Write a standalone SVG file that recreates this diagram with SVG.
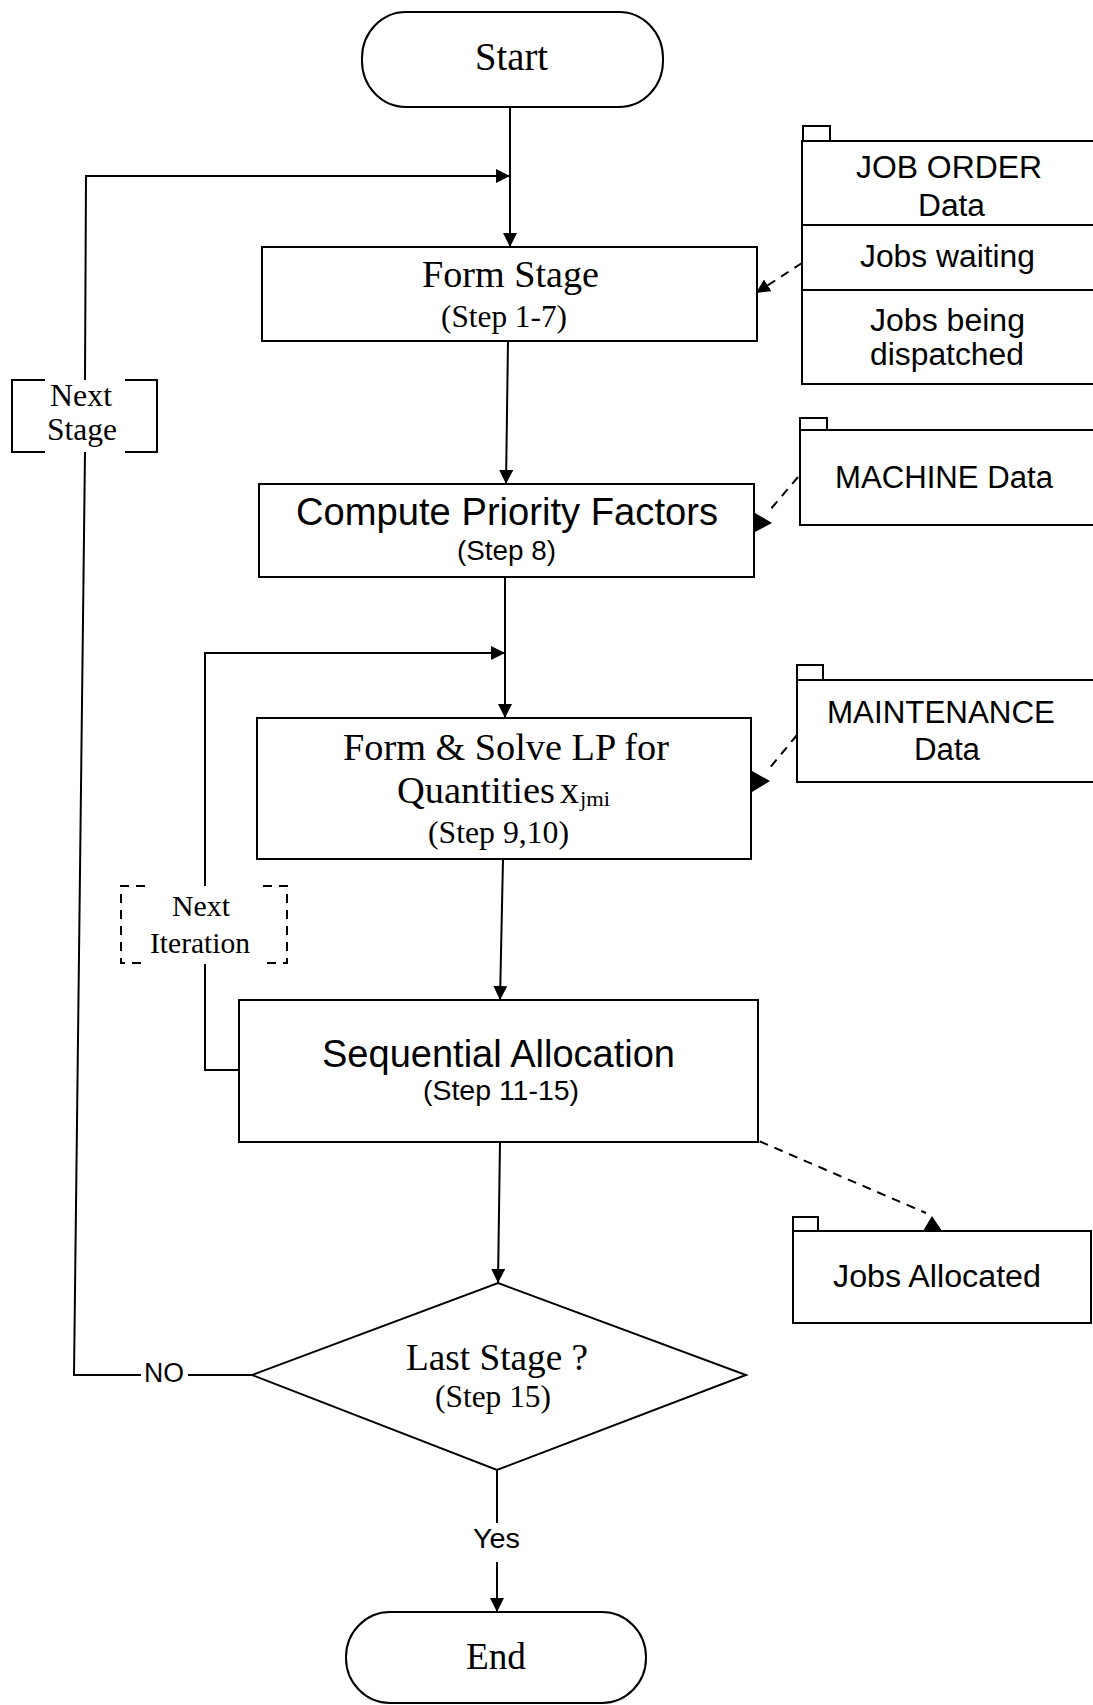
<svg xmlns="http://www.w3.org/2000/svg" width="1093" height="1705" viewBox="0 0 1093 1705">
  <defs>
    <style>
      .shape { fill: #ffffff; stroke: #000000; stroke-width: 2; }
      .edge { fill: none; stroke: #000000; stroke-width: 2; }
      .dash { stroke-dasharray: 9 7; }
      .head { fill: #000000; stroke: none; }
      .serif { font-family: "Liberation Serif", "Times New Roman", serif; fill: #000000; }
      .sans { font-family: "Liberation Sans", Arial, sans-serif; fill: #000000; }
    </style>
    <marker id="arrow" viewBox="0 0 14 14" refX="14" refY="7" markerWidth="14" markerHeight="14" markerUnits="userSpaceOnUse" orient="auto">
      <path d="M0,0 L14,7 L0,14 z" fill="#000000"/>
    </marker>
  </defs>

  <rect x="0" y="0" width="1093" height="1705" fill="#ffffff"/>

  <!-- connectors -->
  <g id="connectors">
    <!-- main flow -->
    <path class="edge" d="M510,107 L510,247" marker-end="url(#arrow)"/>
    <path class="edge" d="M508,341 L506,484" marker-end="url(#arrow)"/>
    <path class="edge" d="M505,577 L505,718" marker-end="url(#arrow)"/>
    <path class="edge" d="M503,859 L500,1000" marker-end="url(#arrow)"/>
    <path class="edge" d="M500,1142 L498,1283" marker-end="url(#arrow)"/>
    <path class="edge" d="M497,1470 L497,1523"/>
    <path class="edge" d="M497,1562 L497,1612" marker-end="url(#arrow)"/>

    <!-- NO branch back to the stage loop -->
    <path class="edge" d="M252,1375 L188,1375"/>
    <path class="edge" d="M141,1375 L74,1375 L85,452"/>
    <path class="edge" d="M85,380 L86,176 L510,176" marker-end="url(#arrow)"/>

    <!-- iteration loop -->
    <path class="edge" d="M239,1070 L205,1070 L205,964"/>
    <path class="edge" d="M205,886 L205,653 L505,653" marker-end="url(#arrow)"/>

    <!-- data flows -->
    <path class="edge dash" d="M802,263 L756,293" marker-end="url(#arrow)"/>
    <path class="edge dash" d="M798,477 L770,510"/>
    <path class="head" d="M755,513 L755,532 L772,523 z"/>
    <path class="edge dash" d="M797,735 L768,770"/>
    <path class="head" d="M752,771 L752,792 L770,781 z"/>
    <path class="edge dash" d="M745,1135 L926,1213"/>
    <path class="head" d="M932,1216 L923,1231 L942,1231 z"/>

    <text class="sans" x="144" y="1382" font-size="27" textLength="40" lengthAdjust="spacingAndGlyphs">NO</text>
    <text class="sans" x="473" y="1548" font-size="27" textLength="47" lengthAdjust="spacingAndGlyphs">Yes</text>
  </g>

  <!-- loop annotations -->
  <g id="next-stage">
    <path class="edge" d="M45,380 L12,380 L12,452 L45,452 M125,380 L157,380 L157,452 L125,452"/>
    <text class="serif" x="50" y="406" font-size="31" textLength="62" lengthAdjust="spacingAndGlyphs">Next</text>
    <text class="serif" x="47" y="440" font-size="31" textLength="70" lengthAdjust="spacingAndGlyphs">Stage</text>
  </g>

  <g id="next-iteration">
    <path class="edge dash" d="M145,886 L121,886 L121,963 L145,963 M263,886 L287,886 L287,963 L263,963" stroke-width="1.6"/>
    <text class="serif" x="172" y="916" font-size="30" textLength="58" lengthAdjust="spacingAndGlyphs">Next</text>
    <text class="serif" x="150" y="953" font-size="30" textLength="100" lengthAdjust="spacingAndGlyphs">Iteration</text>
  </g>

  <!-- process nodes -->
  <g id="start">
    <rect class="shape" x="362" y="12" width="301" height="95" rx="44" ry="46"/>
    <text class="serif" x="475" y="70" font-size="40" textLength="73" lengthAdjust="spacingAndGlyphs">Start</text>
  </g>

  <g id="form-stage">
    <rect class="shape" x="262" y="247" width="495" height="94"/>
    <text class="serif" x="422" y="287" font-size="38" textLength="177" lengthAdjust="spacingAndGlyphs">Form Stage</text>
    <text class="serif" x="441" y="327" font-size="31" textLength="126" lengthAdjust="spacingAndGlyphs">(Step 1-7)</text>
  </g>

  <g id="compute-priority">
    <rect class="shape" x="259" y="484" width="495" height="93"/>
    <text class="sans" x="296" y="525" font-size="38" textLength="422" lengthAdjust="spacingAndGlyphs">Compute Priority Factors</text>
    <text class="sans" x="457" y="560" font-size="27" textLength="99" lengthAdjust="spacingAndGlyphs">(Step 8)</text>
  </g>

  <g id="solve-lp">
    <rect class="shape" x="257" y="718" width="494" height="141"/>
    <text class="serif" x="343" y="760" font-size="38" textLength="326" lengthAdjust="spacingAndGlyphs">Form &amp; Solve LP for</text>
    <text class="serif" x="397" y="803" font-size="38" textLength="158" lengthAdjust="spacingAndGlyphs">Quantities</text>
    <text class="serif" x="560" y="803" font-size="38">x</text>
    <text class="serif" x="580" y="806" font-size="20" textLength="30" lengthAdjust="spacingAndGlyphs">jmi</text>
    <text class="serif" x="428" y="843" font-size="31" textLength="141" lengthAdjust="spacingAndGlyphs">(Step 9,10)</text>
  </g>

  <g id="sequential-allocation">
    <rect class="shape" x="239" y="1000" width="519" height="142"/>
    <text class="sans" x="322" y="1067" font-size="38" textLength="353" lengthAdjust="spacingAndGlyphs">Sequential Allocation</text>
    <text class="sans" x="423" y="1100" font-size="28" textLength="156" lengthAdjust="spacingAndGlyphs">(Step 11-15)</text>
  </g>

  <g id="last-stage">
    <path class="shape" d="M498,1283 L746,1375 L497,1470 L252,1375 z" stroke-width="2.5"/>
    <text class="serif" x="406" y="1370" font-size="37" textLength="182" lengthAdjust="spacingAndGlyphs">Last Stage ?</text>
    <text class="serif" x="435" y="1407" font-size="31" textLength="116" lengthAdjust="spacingAndGlyphs">(Step 15)</text>
  </g>

  <g id="end">
    <rect class="shape" x="346" y="1612" width="300" height="91" rx="44" ry="45"/>
    <text class="serif" x="466" y="1669" font-size="37" textLength="60" lengthAdjust="spacingAndGlyphs">End</text>
  </g>

  <!-- data stores -->
  <g id="job-order-data">
    <rect class="shape" x="803" y="126" width="27" height="15"/>
    <path class="edge" d="M1095,141 L802,141 L802,384 L1095,384 M802,225 L1095,225 M802,290 L1095,290"/>
    <text class="sans" x="856" y="178" font-size="31" textLength="186" lengthAdjust="spacingAndGlyphs">JOB ORDER</text>
    <text class="sans" x="918" y="216" font-size="31" textLength="67" lengthAdjust="spacingAndGlyphs">Data</text>
    <text class="sans" x="860" y="267" font-size="31" textLength="175" lengthAdjust="spacingAndGlyphs">Jobs waiting</text>
    <text class="sans" x="870" y="331" font-size="31" textLength="155" lengthAdjust="spacingAndGlyphs">Jobs being</text>
    <text class="sans" x="870" y="365" font-size="31" textLength="154" lengthAdjust="spacingAndGlyphs">dispatched</text>
  </g>

  <g id="machine-data">
    <rect class="shape" x="800" y="418" width="27" height="12"/>
    <path class="edge" d="M1095,430 L800,430 L800,525 L1095,525"/>
    <text class="sans" x="835" y="488" font-size="31" textLength="218" lengthAdjust="spacingAndGlyphs">MACHINE Data</text>
  </g>

  <g id="maintenance-data">
    <rect class="shape" x="797" y="665" width="26" height="15"/>
    <path class="edge" d="M1095,680 L797,680 L797,782 L1095,782"/>
    <text class="sans" x="827" y="723" font-size="31" textLength="228" lengthAdjust="spacingAndGlyphs">MAINTENANCE</text>
    <text class="sans" x="914" y="760" font-size="31" textLength="66" lengthAdjust="spacingAndGlyphs">Data</text>
  </g>

  <g id="jobs-allocated">
    <rect class="shape" x="793" y="1217" width="25" height="14"/>
    <rect class="shape" x="793" y="1231" width="298" height="92"/>
    <text class="sans" x="833" y="1287" font-size="31" textLength="208" lengthAdjust="spacingAndGlyphs">Jobs Allocated</text>
  </g>
</svg>
